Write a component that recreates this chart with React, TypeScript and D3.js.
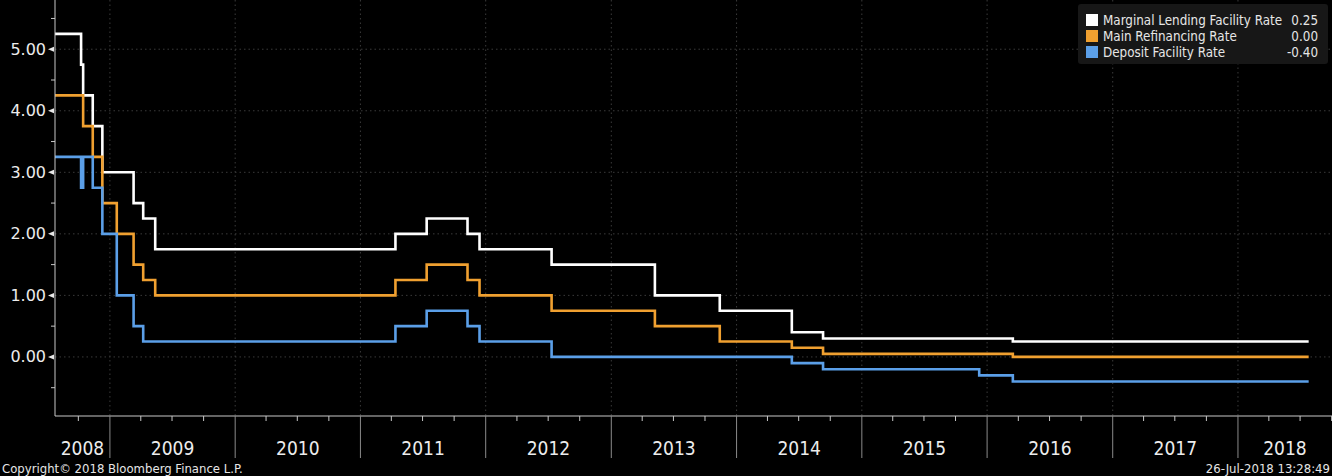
import React from "react";
import * as d3 from "d3";

const W = 1332;
const H = 476;

// ECB key rates: [effective date, rate]
const marginalLending: [string, number][] = [
  ["2008-07-25", 5.25], ["2008-10-09", 4.75], ["2008-10-15", 4.25], ["2008-11-12", 3.75],
  ["2008-12-10", 3.0], ["2009-03-11", 2.5], ["2009-04-08", 2.25], ["2009-05-13", 1.75],
  ["2011-04-13", 2.0], ["2011-07-13", 2.25], ["2011-11-09", 2.0], ["2011-12-14", 1.75],
  ["2012-07-11", 1.5], ["2013-05-08", 1.0], ["2013-11-13", 0.75], ["2014-06-11", 0.4],
  ["2014-09-10", 0.3], ["2016-03-16", 0.25],
];
const mainRefinancing: [string, number][] = [
  ["2008-07-25", 4.25], ["2008-10-15", 3.75], ["2008-11-12", 3.25], ["2008-12-10", 2.5],
  ["2009-01-21", 2.0], ["2009-03-11", 1.5], ["2009-04-08", 1.25], ["2009-05-13", 1.0],
  ["2011-04-13", 1.25], ["2011-07-13", 1.5], ["2011-11-09", 1.25], ["2011-12-14", 1.0],
  ["2012-07-11", 0.75], ["2013-05-08", 0.5], ["2013-11-13", 0.25], ["2014-06-11", 0.15],
  ["2014-09-10", 0.05], ["2016-03-16", 0.0],
];
const depositFacility: [string, number][] = [
  ["2008-07-25", 3.25], ["2008-10-09", 2.75], ["2008-10-15", 3.25], ["2008-11-12", 2.75],
  ["2008-12-10", 2.0], ["2009-01-21", 1.0], ["2009-03-11", 0.5], ["2009-04-08", 0.25],
  ["2011-04-13", 0.5], ["2011-07-13", 0.75], ["2011-11-09", 0.5], ["2011-12-14", 0.25],
  ["2012-07-11", 0.0], ["2014-06-11", -0.1], ["2014-09-10", -0.2], ["2015-12-09", -0.3],
  ["2016-03-16", -0.4],
];
const lastDate = "2018-07-26";

const seriesNames = ["Marginal Lending Facility Rate", "Main Refinancing Rate", "Deposit Facility Rate"];
const seriesLast = ["0.25", "0.00", "-0.40"];
const seriesColors = ["#ffffff", "#f0a030", "#5b9fe8"];
const yMajorTicks = [0, 1, 2, 3, 4, 5];
const yMinorTicks = [-0.5, 0.5, 1.5, 2.5, 3.5, 4.5, 5.5];
const yearLabels = [2008, 2009, 2010, 2011, 2012, 2013, 2014, 2015, 2016, 2017, 2018];

const parse = d3.timeParse("%Y-%m-%d");
const FONT = "'DejaVu Sans Condensed', 'Liberation Sans Narrow', 'DejaVu Sans', sans-serif";

export default function App() {
  const left = 55;
  const bottom = 416;
  const x = d3
    .scaleTime()
    .domain([parse("2008-07-25")!, parse("2018-10-02")!])
    .range([left, W]);
  const y = d3.scaleLinear().domain([-0.96, 5.8]).range([bottom, 0]);

  const toPts = (s: [string, number][]) => {
    const pts = s.map(([d, v]) => ({ d: parse(d)!, v }));
    pts.push({ d: parse(lastDate)!, v: s[s.length - 1][1] });
    return pts;
  };
  const line = d3
    .line<{ d: Date; v: number }>()
    .x((p) => x(p.d))
    .y((p) => y(p.v))
    .curve(d3.curveStepAfter);
  const all = [marginalLending, mainRefinancing, depositFacility].map(toPts);

  const [d0, d1] = x.domain();
  const yearStarts = d3.timeYear.range(d3.timeYear.ceil(d0), d1);
  const quarters = d3.timeMonth
    .every(3)!
    .range(d3.timeMonth.ceil(d0), d1)
    .filter((d) => d.getMonth() !== 0);

  return (
    <svg
      width={W}
      height={H}
      style={{ position: "absolute", left: 0, top: 0, background: "#000" }}
      fontFamily={FONT}
    >
      <rect x={0} y={0} width={W} height={H} fill="#000" />
      {/* grid */}
      {yMajorTicks.map((t) => (
        <line key={"gh" + t} x1={left} x2={W} y1={y(t)} y2={y(t)} stroke="#3a3a3a" strokeDasharray="1.5,3" />
      ))}
      {yearStarts.map((d, i) => (
        <line key={"gv" + i} x1={x(d)} x2={x(d)} y1={0} y2={bottom} stroke="#3a3a3a" strokeDasharray="1.5,3" />
      ))}
      {/* lines */}
      {all.map((pts, i) => (
        <path key={"l" + i} d={line(pts)!} fill="none" stroke={seriesColors[i]} strokeWidth={2.6} strokeLinejoin="miter" />
      ))}
      {/* axes */}
      <line x1={left} x2={left} y1={0} y2={bottom} stroke="#c8c8c8" strokeWidth={1} />
      <line x1={left} x2={W} y1={bottom} y2={bottom} stroke="#c8c8c8" strokeWidth={1} />
      {yMajorTicks.map((t) => (
        <g key={"yt" + t}>
          <path d={`M${left - 7},${y(t)} L${left - 1},${y(t) - 2.5} L${left - 1},${y(t) + 2.5} Z`} fill="#e8e8e8" />
          <text x={left - 9} y={y(t)} textAnchor="end" dominantBaseline="central" fill="#ececec" fontSize={16} fontFamily="'DejaVu Sans', sans-serif">
            {d3.format(".2f")(t)}
          </text>
        </g>
      ))}
      {yMinorTicks.map((t) => (
        <line key={"ym" + t} x1={left - 4} x2={left} y1={y(t)} y2={y(t)} stroke="#c8c8c8" />
      ))}
      {quarters.map((d, i) => (
        <line key={"q" + i} x1={x(d)} x2={x(d)} y1={bottom} y2={bottom + 5} stroke="#c8c8c8" />
      ))}
      {yearStarts.map((d, i) => (
        <line key={"ys" + i} x1={x(d)} x2={x(d)} y1={bottom} y2={bottom + 42} stroke="#8a8a8a" />
      ))}
      {yearLabels.map((yr) => {
        const a = Math.max(+d0, +new Date(yr, 0, 1));
        const b = Math.min(+d1, +new Date(yr + 1, 0, 1));
        const cx = (x(new Date(a)) + x(new Date(b))) / 2;
        return (
          <text key={"yl" + yr} x={cx} y={448} textAnchor="middle" dominantBaseline="central" fill="#ececec" fontSize={19}>
            {yr}
          </text>
        );
      })}
      {/* legend */}
      <rect x={1078} y={4} width={250} height={60} rx={3} fill="#171717" />
      {seriesNames.map((n, i) => {
        const cy = 20 + i * 16;
        return (
          <g key={"lg" + i}>
            <rect x={1086} y={cy - 6} width={12} height={12} fill={seriesColors[i]} />
            <text x={1103} y={cy} dominantBaseline="central" fill="#e6e6e6" fontSize={13.3}>
              {n}
            </text>
            <text x={1318} y={cy} textAnchor="end" dominantBaseline="central" fill="#e6e6e6" fontSize={13.3}>
              {seriesLast[i]}
            </text>
          </g>
        );
      })}
      {/* footer */}
      <text x={2} y={468} dominantBaseline="central" fill="#e6e6e6" fontSize={13}>
        Copyright© 2018 Bloomberg Finance L.P.
      </text>
      <text x={1330} y={468} textAnchor="end" dominantBaseline="central" fill="#e6e6e6" fontSize={13}>
        26-Jul-2018 13:28:49
      </text>
    </svg>
  );
}
